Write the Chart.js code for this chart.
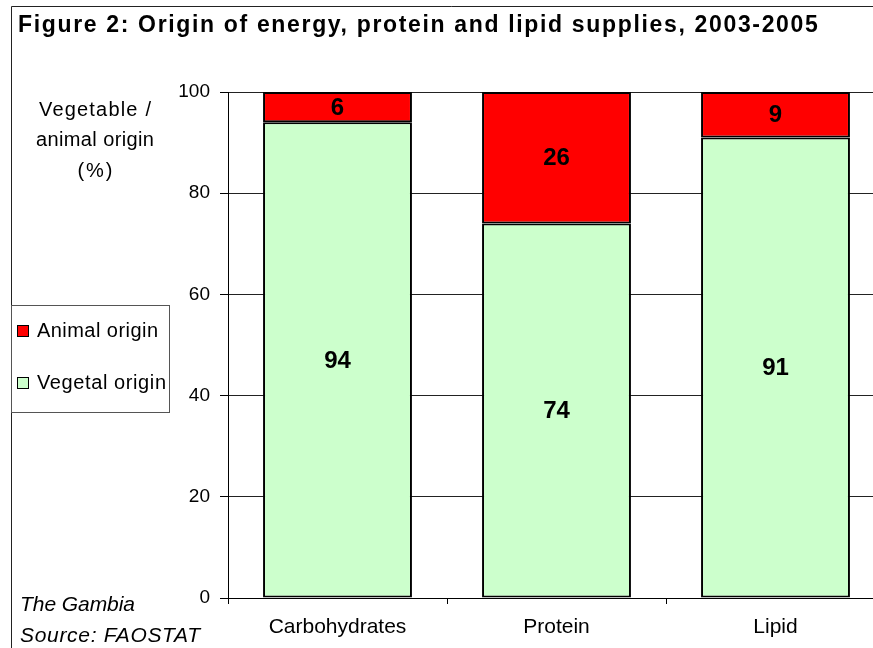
<!DOCTYPE html>
<html>
<head>
<meta charset="utf-8">
<script src="https://cdn.jsdelivr.net/npm/chart.js@4.4.0/dist/chart.umd.min.js"></script>
<style>
  html, body { margin: 0; padding: 0; background: #fff; overflow: hidden; width: 873px; height: 648px; }
  canvas { display: block; }
</style>
</head>
<body>
<canvas id="c" width="890" height="648" style="width:890px;height:648px"></canvas>
<script>
const categories = ['Carbohydrates', 'Protein', 'Lipid'];
const vegetalValues = [94, 74, 91];
const animalValues = [6, 26, 9];
const yTickValues = [0, 20, 40, 60, 80, 100];
const seriesNames = ['Vegetal origin', 'Animal origin'];
const titleText = 'Figure 2: Origin of energy, protein and lipid supplies, 2003-2005';
const yTitleLines = ['Vegetable /', 'animal origin', '(%)'];
const noteLines = ['The Gambia', 'Source: FAOSTAT'];

const FAMILY = '"Liberation Sans", Arial, sans-serif';
const GREEN = '#CCFFCC';
const RED = '#FF0000';

function drawFit(ctx, text, x, y, w, align) {
  ctx.letterSpacing = '0px';
  const m = ctx.measureText(text).width;
  const n = Math.max(text.length - 1, 1);
  const ls = (w - m) / n;
  ctx.letterSpacing = ls.toFixed(2) + 'px';
  ctx.textAlign = 'left';
  let sx = x;
  if (align === 'center') sx = x - w / 2;
  else if (align === 'right') sx = x - w;
  ctx.fillText(text, sx, y);
  ctx.letterSpacing = '0px';
}

const decorPlugin = {
  id: 'decor',
  beforeDraw(chart) {
    const ctx = chart.ctx;
    ctx.save();
    ctx.fillStyle = '#fff';
    ctx.fillRect(0, 0, chart.width, chart.height);
    ctx.strokeStyle = '#222';
    ctx.lineWidth = 1;
    ctx.beginPath();
    ctx.moveTo(11.5, 700);
    ctx.lineTo(11.5, 6.5);
    ctx.lineTo(900, 6.5);
    ctx.stroke();
    ctx.restore();
  },
  afterDraw(chart) {
    const ctx = chart.ctx;
    ctx.save();
    ctx.fillStyle = '#000';
    ctx.textBaseline = 'middle';
    ctx.font = 'bold 23px ' + FAMILY;
    drawFit(ctx, titleText, 18, 26, 800, 'left');
    ctx.font = '20px ' + FAMILY;
    const yt = [[110, 112], [140, 118], [171, 35]];
    yTitleLines.forEach((t, i) => drawFit(ctx, t, 95, yt[i][0], yt[i][1], 'center'));
    ctx.font = 'italic 21px ' + FAMILY;
    const nt = [[605, 115], [636, 180]];
    noteLines.forEach((t, i) => drawFit(ctx, t, 20, nt[i][0], nt[i][1], 'left'));
    ctx.fillStyle = '#fff';
    ctx.fillRect(11.5, 305.5, 158, 107);
    ctx.strokeStyle = '#555';
    ctx.lineWidth = 1;
    ctx.strokeRect(11.5, 305.5, 158, 107);
    const items = [
      { ds: chart.data.datasets[1], y: 331, w: 121 },
      { ds: chart.data.datasets[0], y: 383, w: 129 }
    ];
    ctx.font = '20px ' + FAMILY;
    items.forEach(it => {
      ctx.fillStyle = it.ds.backgroundColor;
      ctx.fillRect(17.5, it.y - 5.5, 11, 11);
      ctx.strokeStyle = '#000';
      ctx.strokeRect(17.5, it.y - 5.5, 11, 11);
      ctx.fillStyle = '#000';
      drawFit(ctx, it.ds.label, 37, it.y, it.w, 'left');
    });
    ctx.font = 'bold 24px ' + FAMILY;
    ctx.textAlign = 'center';
    chart.data.datasets.forEach((ds, di) => {
      const meta = chart.getDatasetMeta(di);
      meta.data.forEach((el, i) => {
        const cy = (el.y + el.base) / 2;
        ctx.fillStyle = '#000';
        ctx.fillText(String(ds.data[i]), el.x, cy + 1);
      });
    });
    ctx.restore();
  }
};

Chart.defaults.font.family = FAMILY;
Chart.defaults.color = '#000';

new Chart(document.getElementById('c'), {
  type: 'bar',
  data: {
    labels: categories,
    datasets: [
      { label: seriesNames[0], data: vegetalValues, backgroundColor: GREEN, borderColor: '#000', borderWidth: 2, borderSkipped: false, barPercentage: 0.68, categoryPercentage: 1 },
      { label: seriesNames[1], data: animalValues, backgroundColor: RED, borderColor: '#000', borderWidth: 2, borderSkipped: false, barPercentage: 0.68, categoryPercentage: 1 }
    ]
  },
  options: {
    responsive: false,
    animation: false,
    devicePixelRatio: 1,
    layout: { padding: { top: 92, right: 5, left: 0, bottom: 0 } },
    plugins: { legend: { display: false }, title: { display: false }, tooltip: { enabled: false } },
    scales: {
      x: {
        stacked: true,
        grid: { display: true, drawOnChartArea: false, drawTicks: true, tickLength: 6, tickColor: '#000', offset: true },
        border: { color: '#000', width: 1 },
        ticks: { font: { size: 21 }, color: '#000', padding: 11 },
        afterFit(scale) { scale.height = 50; }
      },
      y: {
        stacked: true,
        min: 0,
        max: 100,
        afterBuildTicks(scale) { scale.ticks = yTickValues.map(v => ({ value: v })); },
        grid: { color: '#222', lineWidth: 1, drawTicks: true, tickLength: 8, tickColor: '#000' },
        border: { color: '#000', width: 1 },
        ticks: { font: { size: 19 }, color: '#000', padding: 10 },
        afterFit(scale) { scale.width = 228; }
      }
    }
  },
  plugins: [decorPlugin]
});
</script>
</body>
</html>
